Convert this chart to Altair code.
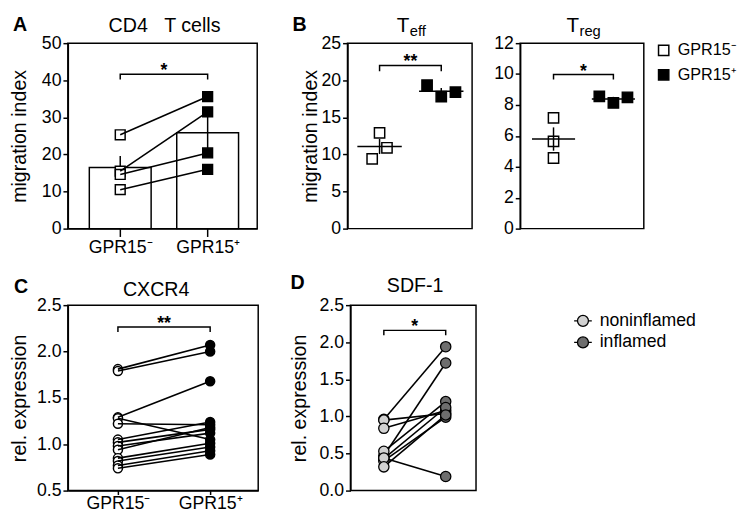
import altair as alt
import pandas as pd

FONT = "Liberation Sans"
NEG, POS = "GPR15\u207b", "GPR15\u207a"
NON, INF = "noninflamed", "inflamed"

# ---------------- data ----------------
a_neg = [25.3, 15.5, 14.6, 10.5]
a_pos = [35.6, 31.5, 20.4, 16.0]
a_ticks = [0, 10, 20, 30, 40, 50]
teff_neg = [9.4, 12.9, 10.9]
teff_pos = [19.35, 17.8, 18.4]
teff_ticks = [0, 5, 10, 15, 20, 25]
treg_neg = [4.57, 7.17, 5.65]
treg_pos = [8.55, 8.13, 8.5]
treg_ticks = [0, 2, 4, 6, 8, 10, 12]
c_neg = [1.81, 1.79, 1.29, 1.28, 1.22, 1.05, 1.02, 0.98, 0.94, 0.85, 0.82, 0.77, 0.74]
c_pos = [2.07, 2.00, 1.68, 1.05, 1.21, 1.24, 1.16, 1.12, 1.18, 1.01, 0.97, 0.93, 0.89]
c_ticks = [0.5, 1.0, 1.5, 2.0, 2.5]
d_non = [0.96, 0.95, 0.84, 0.47, 0.53, 0.43, 0.40, 0.44, 0.32]
d_inf = [1.94, 1.04, 1.08, 1.72, 1.20, 1.12, 0.99, 0.19, 1.02]
d_ticks = [0.0, 0.5, 1.0, 1.5, 2.0, 2.5]
sig_a = (41.6, 1.4, "*")
sig_teff = (22.0, 0.8, "**")
sig_treg = (9.97, 0.32, "*")
sig_c = (2.264, 0.053, "**")
sig_d = (2.16, 0.066, "*")

H = 189
WA, WTE, WTR, WC, WD = 193, 127, 126, 194, 128


def paired(left, right, lab0, lab1):
    rows = []
    for i, (l, r) in enumerate(zip(left, right)):
        rows.append({"pair": i, "g": 0, "v": l, "grp": lab0})
        rows.append({"pair": i, "g": 1, "v": r, "grp": lab1})
    return pd.DataFrame(rows)


def reps(left, right, lab0, lab1):
    rows = []
    for i, v in enumerate(left):
        rows.append({"rep": i, "g": 0, "v": v, "grp": lab0})
    for i, v in enumerate(right):
        rows.append({"rep": i, "g": 1, "v": v, "grp": lab1})
    return pd.DataFrame(rows)


def xq(field, dom, axis):
    return alt.X(field, type="quantitative",
                 scale=alt.Scale(domain=dom, nice=False, zero=False), axis=axis)


def yq(field, dom, axis, **kw):
    return alt.Y(field, type="quantitative",
                 scale=alt.Scale(domain=dom, nice=False, zero=False), axis=axis, **kw)


def yaxis(ticks, title, pad, fmt=None):
    kw = dict(values=ticks, title=title, titlePadding=pad, grid=False)
    if fmt:
        kw["format"] = fmt
    return alt.Axis(**kw)


def cat_axis(tick, pad):
    return alt.Axis(values=[0, 1],
                    labelExpr=f"datum.value == 0 ? '{NEG}' : '{POS}'",
                    title=None, grid=False, tickSize=tick, labelPadding=pad)


fill_gp = alt.Scale(domain=[NEG, POS], range=["white", "black"])
fill_d = alt.Scale(domain=[NON, INF], range=["#d2d2d2", "#6e6e6e"])


def label(s, x, y, size, bold=False, align="left"):
    return alt.Chart(pd.DataFrame({"t": [s]})).mark_text(
        align=align, baseline="alphabetic", font=FONT, fontSize=size,
        fontWeight="bold" if bold else "normal", color="black"
    ).encode(x=alt.value(x), y=alt.value(y), text="t:N")


def spacer(x1, x2, y1, y2):
    # invisible layout frame that fixes each panel's outer extent
    return alt.Chart(pd.DataFrame({"s": [0]})).mark_rect(opacity=0).encode(
        x=alt.value(x1), x2=alt.value(x2), y=alt.value(y1), y2=alt.value(y2))


def bracket(sig, xdom, xa, ydom, ya):
    h, d, s = sig
    bdf = pd.DataFrame({"bx": [0, 0, 1, 1], "by": [h - d, h, h, h - d], "o": [0, 1, 2, 3]})
    line = alt.Chart(bdf).mark_line(color="black", strokeWidth=1.5).encode(
        x=xq("bx", xdom, xa), y=yq("by", ydom, ya), order="o:Q")
    sdf = pd.DataFrame({"sx": [0.5], "sy": [h], "t": [s]})
    star = alt.Chart(sdf).mark_text(font=FONT, fontSize=18, fontWeight="bold",
                                     baseline="alphabetic", dy=2, color="black").encode(
        x=xq("sx", xdom, xa), y=yq("sy", ydom, ya), text="t:N")
    return line, star


# ---------------- Panel A ----------------
dfA = paired(a_neg, a_pos, NEG, POS)
xdA, ydA = [-0.543, 1.511], [0, 50]
xaA = cat_axis(8, 2)
yaA = yaxis(a_ticks, "migration index", 12)
barsA = alt.Chart(dfA).mark_bar(size=63, fill="white", stroke="black", strokeWidth=1.5).encode(
    x=xq("g", xdA, xaA), y=yq("v", ydA, yaA, aggregate="mean"))
errA = alt.Chart(dfA).mark_errorbar(extent="stderr", color="black", thickness=1.5).encode(
    x=xq("g", xdA, xaA), y=yq("v", ydA, yaA))
ptsA = alt.Chart(dfA).mark_point(shape="square", filled=True, opacity=1, size=100,
                                 stroke="black", strokeWidth=1.5).encode(
    x=xq("g", xdA, xaA), y=yq("v", ydA, yaA),
    fill=alt.Fill("grp:N", scale=fill_gp, legend=None))
linA = alt.Chart(dfA).mark_line(color="black", strokeWidth=1.6).encode(
    x=xq("g", xdA, xaA), y=yq("v", ydA, yaA), detail="pair:N")
brA, stA = bracket(sig_a, xdA, xaA, ydA, yaA)
panelA = alt.layer(
    barsA, errA, ptsA, linA, brA, stA,
    label("CD4\u00a0\u00a0\u00a0T cells", WA / 2 + 2, -11, 20, align="center"),
    label("A", -56, -12, 20, bold=True),
    spacer(-60, WA + 28, -30, H + 30),
).properties(width=WA, height=H)


# ---------------- Panel B ----------------
def bpanel(neg, pos, xdom, ydom, ya, spread, sig, W, sub, split, legend, extra):
    df = reps(neg, pos, NEG, POS)
    calc = f"datum.g + (datum.rep - 1) * (datum.g == 0 ? {spread[0]} : {spread[1]})"
    pts = alt.Chart(df).transform_calculate(xj=calc).mark_point(
        shape="square", filled=True, opacity=1, size=110, stroke="black", strokeWidth=1.5
    ).encode(x=xq("xj", xdom, None), y=yq("v", ydom, ya),
             fill=alt.Fill("grp:N", scale=fill_gp, legend=legend))
    mean = alt.Chart(df).transform_aggregate(m="mean(v)", groupby=["g"]).transform_calculate(
        x1="datum.g - 0.36", x2="datum.g + 0.36").mark_rule(color="black", strokeWidth=1.5).encode(
        x=xq("x1", xdom, None), x2="x2:Q", y=yq("m", ydom, ya))
    err = alt.Chart(df).mark_errorbar(extent="stderr", color="black", thickness=1.5).encode(
        x=xq("g", xdom, None), y=yq("v", ydom, ya))
    br, st = bracket(sig, xdom, None, ydom, ya)
    return alt.layer(
        pts, mean, err, br, st,
        label("T", split, -11, 21, align="right"),
        label(sub, split + 0.5, -7, 15),
        *extra,
    ).properties(width=W, height=H)


leg_b = alt.Legend(orient="none", legendX=138, legendY=-1, title=None, symbolType="square",
                   symbolSize=110, symbolStrokeColor="black", symbolStrokeWidth=1.5,
                   labelFont=FONT, labelFontSize=16.5, labelColor="black", labelOffset=6,
                   rowPadding=8, padding=0)
panelTeff = bpanel(teff_neg, teff_pos, [-0.52, 1.5], [0, 25],
                   yaxis(teff_ticks, "migration index", 1), [0.12, 0.23], sig_teff,
                   WTE, "eff", 63, None,
                   [label("B", -56, -12, 20, bold=True), spacer(-62, WTE + 17, -30, H)])
panelTreg = bpanel(treg_neg, treg_pos, [-0.557, 1.508], [0, 12],
                   yaxis(treg_ticks, None, 1), [0.0, 0.235], sig_treg,
                   WTR, "reg", 60, leg_b,
                   [spacer(-30, WTR, -30, H)])

# ---------------- Panel C ----------------
dfC = paired(c_neg, c_pos, NEG, POS)
xdC, ydC = [-0.543, 1.521], [0.5, 2.5]
xaC = cat_axis(4, 0)
yaC = yaxis(c_ticks, "rel. expression", 7, ".1f")
ptsC = alt.Chart(dfC).mark_point(shape="circle", filled=True, opacity=1, size=85,
                                 stroke="black", strokeWidth=1.5).encode(
    x=xq("g", xdC, xaC), y=yq("v", ydC, yaC),
    fill=alt.Fill("grp:N", scale=fill_gp, legend=None))
linC = alt.Chart(dfC).mark_line(color="black", strokeWidth=1.6).encode(
    x=xq("g", xdC, xaC), y=yq("v", ydC, yaC), detail="pair:N")
brC, stC = bracket(sig_c, xdC, xaC, ydC, yaC)
panelC = alt.layer(
    ptsC, linC, brC, stC,
    label("CXCR4", 90, -9, 20, align="center"),
    label("C", -55, -12, 20, bold=True),
    spacer(-60, WC + 28, -33, H + 20),
).properties(width=WC, height=H)

# ---------------- Panel D ----------------
dfD = paired(d_non, d_inf, NON, INF)
xdD, ydD = [-0.54, 1.49], [0, 2.5]
yaD = yaxis(d_ticks, "rel. expression", 10, ".1f")
sym = "M-1,0L-0.62,0M0.62,0L1,0M0.62,0A0.62,0.62,0,1,1,-0.62,0A0.62,0.62,0,1,1,0.62,0Z"
leg_d = alt.Legend(orient="none", legendX=227, legendY=6, title=None, symbolType=sym,
                   symbolSize=324, symbolStrokeColor="black", symbolStrokeWidth=1.3,
                   labelFont=FONT, labelFontSize=18, labelColor="black", labelOffset=7,
                   rowPadding=3, padding=0)
linD = alt.Chart(dfD).mark_line(color="black", strokeWidth=1.6).encode(
    x=xq("g", xdD, None), y=yq("v", ydD, yaD), detail="pair:N")
ptsD = alt.Chart(dfD).mark_point(shape="circle", filled=True, opacity=1, size=110,
                                 stroke="black", strokeWidth=1.3).encode(
    x=xq("g", xdD, None), y=yq("v", ydD, yaD),
    fill=alt.Fill("grp:N", scale=fill_d, legend=leg_d))
brD, stD = bracket(sig_d, xdD, None, ydD, yaD)
panelD = alt.layer(
    linD, ptsD, brD, stD,
    label("SDF-1", 66, -13, 20, align="center"),
    label("D", -61, -16, 20, bold=True),
    spacer(-64, WD, -33, H),
).properties(width=WD, height=H)

row1 = alt.hconcat(panelA, panelTeff, panelTreg, spacing=0).resolve_scale(fill="independent")
row2 = alt.hconcat(panelC, panelD, spacing=0).resolve_scale(fill="independent")

chart = alt.vconcat(row1, row2, spacing=13).resolve_scale(fill="independent").properties(
    padding={"left": 0, "top": 0, "right": 0, "bottom": -4}
).configure_view(stroke="black", strokeWidth=1.5).configure_axis(
    labelFont=FONT, labelFontSize=18, labelColor="black",
    titleFont=FONT, titleFontSize=20, titleFontWeight="normal", titleColor="black",
    domainColor="black", domainWidth=1.5, tickColor="black", tickWidth=1.5,
    tickSize=5, labelPadding=2, grid=False,
)

chart.save("out.html", embed_options={"renderer": "svg", "actions": False})
